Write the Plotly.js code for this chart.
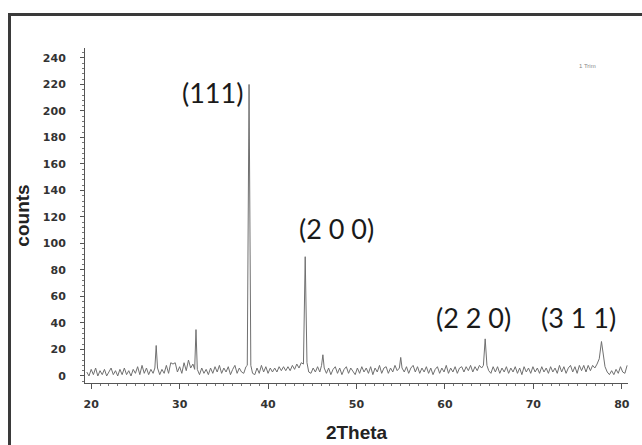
<!DOCTYPE html>
<html>
<head>
<meta charset="utf-8">
<script src="https://cdn.plot.ly/plotly-3.0.1.min.js"></script>
<style>
html,body{margin:0;padding:0;background:#fff;}
#wrap{position:relative;width:642px;height:445px;overflow:hidden;}
#chart{position:absolute;left:0;top:0;width:642px;height:445px;}
#frame{position:absolute;left:8px;top:13px;width:700px;height:500px;border-left:3px solid #3a3a3a;border-top:3px solid #3a3a3a;pointer-events:none;}
</style>
</head>
<body>
<div id="wrap"><div id="chart"></div><div id="frame"></div></div>
<script>
// 2Theta positions (degrees)
const twoTheta = [
19.5,19.75,20.0,20.25,20.5,20.75,21.0,21.25,21.5,21.75,22.0,22.25,22.5,22.75,23.0,23.25,23.5,23.75,24.0,24.25,24.5,24.75,
25.0,25.25,25.5,25.75,26.0,26.25,26.5,26.75,27.0,27.2,27.35,27.5,27.75,28.0,28.25,28.5,28.75,29.0,29.25,29.5,29.75,
30.0,30.25,30.5,30.75,31.0,31.25,31.5,31.7,31.85,32.0,32.25,32.5,32.75,33.0,33.25,33.5,33.75,34.0,34.25,34.5,34.75,
35.0,35.25,35.5,35.75,36.0,36.25,36.5,36.75,37.0,37.25,37.5,37.65,37.85,38.05,38.25,38.5,38.75,39.0,39.25,39.5,39.75,
40.0,40.25,40.5,40.75,41.0,41.25,41.5,41.75,42.0,42.25,42.5,42.75,43.0,43.25,43.5,43.75,44.0,44.2,44.4,44.6,44.85,
45.1,45.35,45.6,45.85,46.05,46.2,46.35,46.6,46.85,47.1,47.35,47.6,47.85,48.1,48.35,48.6,48.85,49.1,49.35,49.6,49.85,
50.1,50.35,50.6,50.85,51.1,51.35,51.6,51.85,52.1,52.35,52.6,52.85,53.1,53.35,53.6,53.85,54.1,54.35,54.6,54.85,55.0,55.15,
55.4,55.65,55.9,56.15,56.4,56.65,56.9,57.15,57.4,57.65,57.9,58.15,58.4,58.65,58.9,59.15,59.4,59.65,59.9,
60.15,60.4,60.65,60.9,61.15,61.4,61.65,61.9,62.15,62.4,62.65,62.9,63.15,63.4,63.65,63.9,64.15,64.35,64.55,64.75,64.95,
65.2,65.45,65.7,65.95,66.2,66.45,66.7,66.95,67.2,67.45,67.7,67.95,68.2,68.45,68.7,68.95,69.2,69.45,69.7,69.95,
70.2,70.45,70.7,70.95,71.2,71.45,71.7,71.95,72.2,72.45,72.7,72.95,73.2,73.45,73.7,73.95,74.2,74.45,74.7,74.95,
75.2,75.45,75.7,75.95,76.2,76.45,76.7,76.95,77.2,77.45,77.7,77.9,78.1,78.35,78.6,78.85,79.1,79.35,79.6,79.85,80.1,80.35,80.6
];
// intensity (counts)
const counts = [
3,0,5,1,6,0,4,1,5,0,3,6,1,4,0,5,1,6,1,4,0,5,
2,7,1,8,2,6,1,5,2,6,23,6,1,5,2,8,2,10,9,10,3,
7,2,10,4,12,6,9,5,35,5,1,6,2,5,1,6,2,7,3,8,2,
6,3,7,1,5,8,2,6,3,2,7,8,220,8,2,1,6,2,8,3,7,
2,6,3,6,3,7,4,7,4,7,4,8,5,9,6,10,9,90,10,3,2,
6,3,7,3,8,16,6,2,6,1,5,7,2,6,1,5,7,2,6,3,1,
6,2,7,3,6,2,7,1,6,3,8,2,6,7,2,6,3,8,4,6,14,6,
3,7,2,6,8,3,7,2,6,3,7,2,6,1,5,7,2,6,3,
8,2,6,3,7,2,6,7,3,7,4,8,3,7,4,8,6,8,28,8,4,
2,7,3,7,2,6,3,7,2,6,3,7,2,6,1,7,3,6,2,7,
3,6,2,7,3,6,2,7,3,6,2,8,3,7,2,6,8,3,7,2,
8,4,8,3,8,4,8,6,9,13,26,14,7,3,1,4,1,5,2,7,3,2,8
];
// peak labels (Miller indices) and where they sit
const peakLabels = ['(111)', '(2 0 0)', '(2 2 0)', '(3 1 1)'];
const labelX = [33.7, 47.7, 63.2, 75.1];
const labelY = [214, 111, 44, 44];
const yTickValues = [0,20,40,60,80,100,120,140,160,180,200,220,240];
const xTickValues = [20,30,40,50,60,70,80];

const trace = {
  x: twoTheta, y: counts, type: 'scatter', mode: 'lines',
  line: {color: '#707070', width: 1}, hoverinfo: 'skip'
};

const tickFont = {family: 'DejaVu Sans, Verdana, sans-serif', size: 11, color: '#333', weight: 'bold'};

const layout = {
  width: 642, height: 445,
  margin: {l: 85, r: 14, t: 48, b: 62},
  paper_bgcolor: '#fff', plot_bgcolor: '#fff',
  showlegend: false,
  xaxis: {
    range: [19.3, 80.7], showgrid: false, zeroline: false,
    showline: true, linecolor: '#555', linewidth: 1,
    tickvals: xTickValues, ticks: 'outside', ticklen: 5, tickcolor: '#555',
    minor: {ticks: 'outside', ticklen: 2, dtick: 1, tickcolor: '#777'},
    tickfont: tickFont, ticklabelstandoff: 6,
    title: {text: '2Theta', font: {family: 'Liberation Sans, Arial, sans-serif', size: 19, color: '#222', weight: 'bold'}, standoff: 15}
  },
  yaxis: {
    range: [-5.3, 247.5], showgrid: false, zeroline: false,
    showline: true, linecolor: '#555', linewidth: 1,
    tickvals: yTickValues, ticks: 'outside', ticklen: 4, tickcolor: '#555',
    minor: {ticks: 'outside', ticklen: 2, dtick: 4, tickcolor: '#777'},
    tickfont: tickFont, ticklabelstandoff: 12,
    title: {text: 'counts', font: {family: 'Liberation Sans, Arial, sans-serif', size: 19, color: '#222', weight: 'bold'}, standoff: 8}
  },
  annotations: peakLabels.map((t, i) => ({
    x: labelX[i], y: labelY[i], xref: 'x', yref: 'y', text: t, showarrow: false,
    font: {family: 'Lato, Open Sans, sans-serif', size: 27, color: '#1a1a1a'}
  })).concat([{
    xref: 'paper', yref: 'paper', x: 0.945, y: 0.96, text: '1 Trim', showarrow: false,
    font: {family: 'Liberation Sans, Arial, sans-serif', size: 6, color: '#888'}
  }])
};

Plotly.newPlot('chart', [trace], layout, {staticPlot: true, displayModeBar: false});
</script>
</body>
</html>
